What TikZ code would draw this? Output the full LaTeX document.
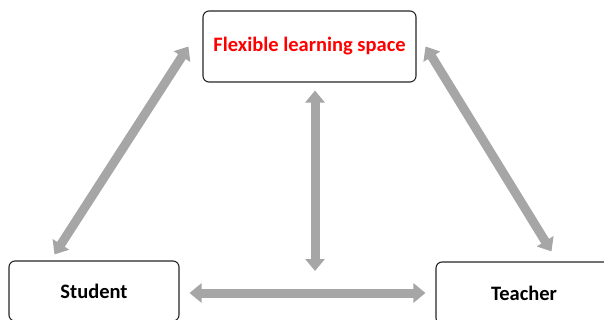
\documentclass[tikz,border=0pt]{standalone}
\usepackage{fontspec}
\setmainfont{Carlito}
\usetikzlibrary{arrows.meta,calc}
\definecolor{arrowgray}{HTML}{A6A6A6}
\definecolor{framegray}{HTML}{262626}
\begin{document}
\begin{tikzpicture}[x=1pt,y=-1pt,
  box/.style={draw=framegray,line width=1.1pt,rounded corners=6pt,fill=white,
    inner sep=0pt,font=\bfseries\fontsize{20.5}{24}\selectfont},
  link/.style={arrowgray,line width=9pt,
    {Triangle[width=19pt,length=12pt]}-{Triangle[width=19pt,length=12pt]}}]
\useasboundingbox (0,0) rectangle (604,320);
\node[box,minimum width=213pt,minimum height=71pt,text=red] (flex) at (309.5,46.5) {Flexible learning space};
\node[box,minimum width=170pt,minimum height=60pt] (student) at (94,291) {Student};
\node[box,minimum width=176pt,minimum height=62pt] (teacher) at (524,293) {Teacher};
\coordinate (mid) at (315,271);
% student <-> teacher
\draw[link,shorten <=10pt,shorten >=10pt] ([yshift=-2pt]student.east) -- (teacher.west);
% flexible space <-> middle
\draw[link,shorten <=8pt] (flex.south -| mid) -- (mid);
% student <-> flexible space
\draw[link] ([shift={(46pt,6pt)}]student.north west) -- ([xshift=-14pt]flex.west);
% flexible space <-> teacher
\draw[link] ([xshift=9pt]flex.east) -- ([shift={(116pt,10pt)}]teacher.north west);
\end{tikzpicture}
\end{document}
